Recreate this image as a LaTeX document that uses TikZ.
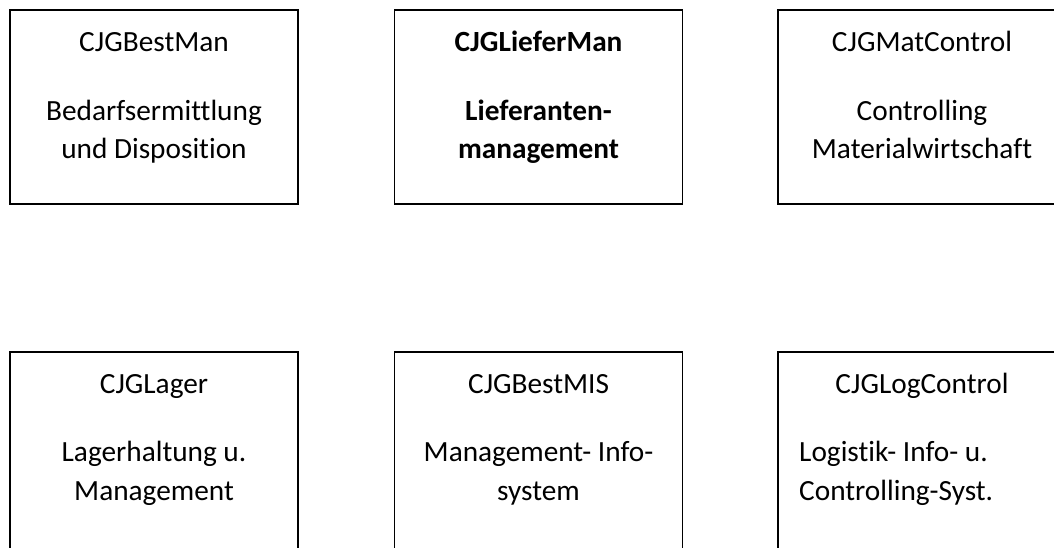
\documentclass[tikz,border=0pt]{standalone}
\usepackage{fontspec}
\setmainfont{Carlito}[Ligatures=NoCommon]
\begin{document}
\begin{tikzpicture}[x=1pt,y=-1pt,
  box/.style={draw=black,line width=1.6pt,minimum width=288pt,minimum height=194pt,inner sep=0pt,outer sep=0pt},
  lbl/.style={anchor=base,inner sep=0pt,font=\fontsize{29.3}{38}\selectfont},
  lblw/.style={anchor=base west,inner sep=0pt,font=\fontsize{29.3}{38}\selectfont},
  bld/.style={font=\fontsize{29.3}{38}\selectfont\bfseries}]
\useasboundingbox (0,0) rectangle (1054,548);
\clip (0,0) rectangle (1054,548);
% top row
\node[box] (b1) at (154,107) {};
\node[box] (b2) at (538.5,107) {};
\node[box] (b3) at (922,107) {};
% bottom row
\node[box,minimum height=230pt] (b4) at (154,467) {};
\node[box,minimum height=230pt] (b5) at (538.5,467) {};
\node[box,minimum height=230pt] (b6) at (922,467) {};
% texts box 1
\node[lbl] (t1a) at (154,52) {CJGBestMan};
\node[lbl] (t1b) at (154,121) {Bedarfsermittlung};
\node[lbl] (t1c) at (154,159) {und Disposition};
% box 2
\node[lbl,bld] (t2a) at (538.5,52) {CJGLieferMan};
\node[lbl,bld] (t2b) at (538.5,121) {Lieferanten-};
\node[lbl,bld] (t2c) at (538.5,159) {management};
% box 3
\node[lbl] (t3a) at (922,52) {CJGMatControl};
\node[lbl] (t3b) at (922,121) {Controlling};
\node[lbl] (t3c) at (922,159) {Materialwirtschaft};
% box 4
\node[lbl] (t4a) at (154,393) {CJGLager};
\node[lbl] (t4b) at (154,461) {Lagerhaltung u.};
\node[lbl] (t4c) at (154,500) {Management};
% box 5
\node[lbl] (t5a) at (538.5,393) {CJGBestMIS};
\node[lbl] (t5b) at (538.5,461) {Management- Info-};
\node[lbl] (t5c) at (538.5,500) {system};
% box 6
\node[lbl] (t6a) at (922,393) {CJGLogControl};
\node[lblw] (t6b) at (799,461) {Logistik- Info- u.};
\node[lblw] (t6c) at (799,500) {Controlling-Syst.};
\end{tikzpicture}
\end{document}
